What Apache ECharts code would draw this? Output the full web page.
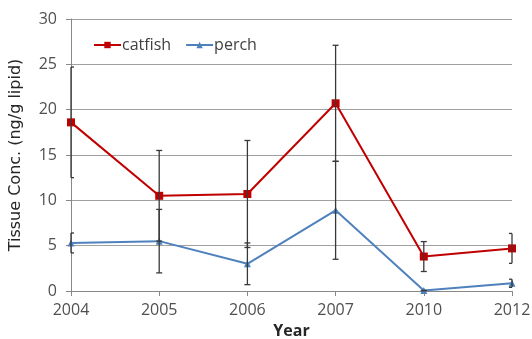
<!DOCTYPE html>
<html><head><meta charset="utf-8">
<script src="https://cdn.jsdelivr.net/npm/echarts@6/dist/echarts.min.js"></script>
<style>html,body{margin:0;padding:0;background:#fff}#c{width:532px;height:339px}</style>
</head><body><div id="c"></div>
<script>
const years = ['2004','2005','2006','2007','2010','2012'];
const catfish = [18.6, 10.5, 10.7, 20.7, 3.8, 4.7];
const catfishErr = [6.1, 5.0, 5.9, 6.4, 1.65, 1.65];
const perch = [5.3, 5.5, 3.0, 8.9, 0.05, 0.85];
const perchErr = [1.1, 3.5, 2.3, 5.4, 0, 0.45];
const yTicks = [0, 5, 10, 15, 20, 25, 30];

function errData(vals, errs){
  return vals.map((v,i)=>[i, v-errs[i], v+errs[i]]);
}
function renderErr(params, api){
  const x = api.value(0);
  const lo = api.coord([x, api.value(1)]);
  const hi = api.coord([x, api.value(2)]);
  const cs = params.coordSys;
  const w = 3;
  const l = Math.max(lo[0]-w, cs.x), r = Math.min(lo[0]+w, cs.x+cs.width);
  const st = {stroke:'#383838', lineWidth:1.3};
  return {type:'group', children:[
    {type:'line', shape:{x1:lo[0],y1:lo[1],x2:hi[0],y2:hi[1]}, style:st},
    {type:'line', shape:{x1:l,y1:lo[1],x2:r,y2:lo[1]}, style:st},
    {type:'line', shape:{x1:l,y1:hi[1],x2:r,y2:hi[1]}, style:st}
  ]};
}
const font = '"Open Sans", "DejaVu Sans", sans-serif';
const chart = echarts.init(document.getElementById('c'));
chart.setOption({
  animation:false,
  textStyle:{fontFamily:font},
  grid:{left:71, right:20, top:19, bottom:48, containLabel:false, outerBoundsMode:'none'},
  legend:{
    data:['catfish','perch'], left:88, top:32, itemGap:14, itemWidth:27, itemHeight:8,
    textStyle:{fontSize:16, color:'#404040', fontFamily:font, padding:[0,0,0,-4]}
  },
  xAxis:{
    type:'category', data:years, boundaryGap:false,
    name:'Year', nameLocation:'middle', nameGap:32,
    nameTextStyle:{fontSize:16, fontWeight:'bold', color:'#262626', fontFamily:font},
    axisLine:{lineStyle:{color:'#888', width:1}},
    axisTick:{show:true, length:5, lineStyle:{color:'#888'}},
    axisLabel:{fontSize:16, color:'#505050', margin:11, fontFamily:font}
  },
  yAxis:{
    type:'value', min:0, max:30, interval:5,
    name:'Tissue Conc. (ng/g lipid)', nameLocation:'middle', nameGap:47,
    nameTextStyle:{fontSize:16, color:'#262626', fontFamily:'"DejaVu Sans", sans-serif'},
    axisLine:{show:true, lineStyle:{color:'#888', width:1}},
    axisTick:{show:true, length:5, lineStyle:{color:'#888'}},
    splitLine:{lineStyle:{color:'#a0a0a0', width:1}},
    axisLabel:{fontSize:16, color:'#505050', margin:14, fontFamily:font,
      formatter:v=>yTicks.includes(v)?String(v):''}
  },
  series:[
    {type:'custom', name:'catErr', renderItem:renderErr, data:errData(catfish,catfishErr), z:4, encode:{x:0,y:[1,2]}},
    {type:'custom', name:'perchErr', renderItem:renderErr, data:errData(perch,perchErr), z:4, encode:{x:0,y:[1,2]}},
    {type:'line', name:'catfish', data:catfish, symbol:'rect', symbolSize:8,
      lineStyle:{color:'#C00000', width:2}, itemStyle:{color:'#C00000'}, z:3},
    {type:'line', name:'perch', data:perch, symbol:'triangle', symbolSize:7,
      lineStyle:{color:'#4F81BD', width:2}, itemStyle:{color:'#4F81BD'}, z:3}
  ]
});
</script></body></html>
